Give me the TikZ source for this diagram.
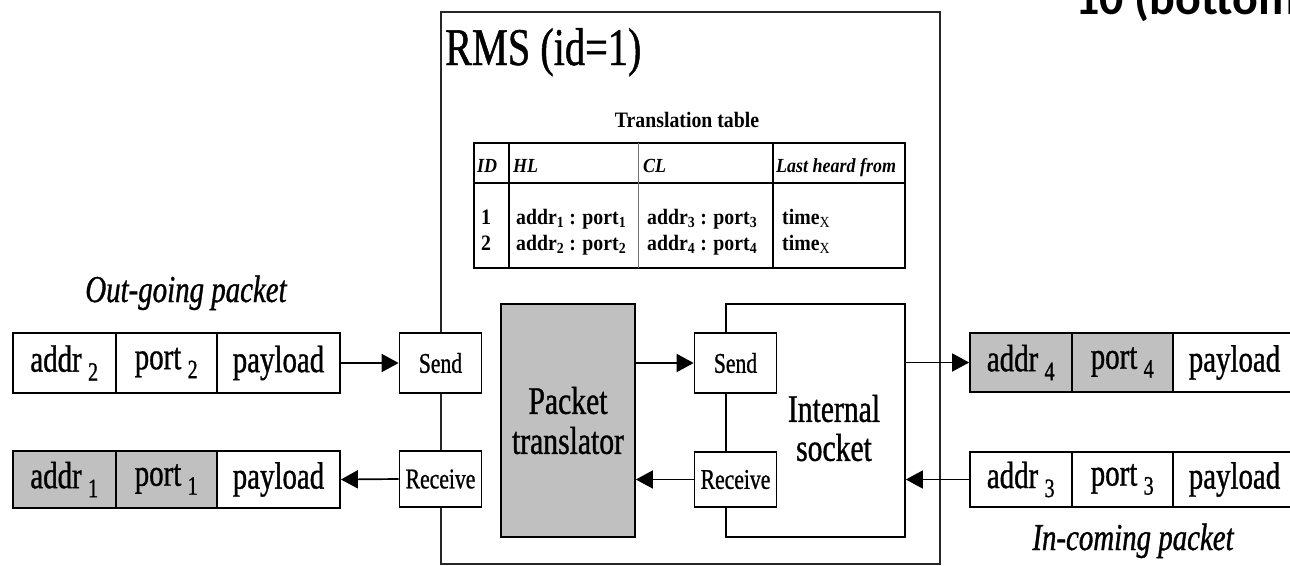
\documentclass[tikz,border=0pt]{standalone}
\usepackage{fontspec}
\setmainfont{Liberation Serif}[FakeStretch=0.76,FakeBold=0.9]
\newfontfamily\tabf{Liberation Serif}[FakeStretch=0.9]
\newfontfamily\headf{Carlito}
\usetikzlibrary{arrows.meta}
\definecolor{cellgrey}{RGB}{192,192,192}
\newcommand\lo[1]{\textsubscript{#1}}
\begin{document}
\begin{tikzpicture}[x=1pt,y=-1pt,
  box/.style={draw, line width=1.7pt, inner sep=0pt, fill=white},
  pkt/.style={box, minimum height=60pt, font=\fontsize{38}{38}\selectfont},
  pktg/.style={pkt, fill=cellgrey},
  portbox/.style={box, minimum width=82pt, font=\fontsize{28.5}{28.5}\selectfont},
  big/.style={box, align=center, font=\fontsize{39}{40}\selectfont},
  arr/.style={line width=1.7pt, -{Triangle[length=17pt,width=18pt]}},
  tabtxt/.style={anchor=base west, inner sep=0pt, font=\tabf\bfseries\fontsize{22}{22}\selectfont},
  tabhd/.style={anchor=base west, inner sep=0pt, font=\tabf\bfseries\itshape\fontsize{20}{20}\selectfont},
  pcap/.style={anchor=base, inner sep=0pt, font=\itshape\fontsize{38}{38}\selectfont}]
\useasboundingbox (0,0) rectangle (1290,565);
\clip (0,0) rectangle (1290,565);

% title fragment at top right
\node[anchor=base west, inner sep=0pt, font=\headf\bfseries\fontsize{48}{48}\selectfont] (frag) at (1075,14) {10 (bottom};

% RMS box
\node[draw=black!85, line width=1.4pt, minimum width=499pt, minimum height=552pt, inner sep=0pt] (rms) at (690.5,288) {};
\node[anchor=base west, inner sep=0pt, font=\fontsize{53}{53}\selectfont] (rmst) at (445,65) {RMS (id=1)};

% translation table
\node[anchor=base, inner sep=0pt, font=\tabf\bfseries\fontsize{22}{22}\selectfont] (tabt) at (687,127) {Translation table};
\node[box, minimum width=431pt, minimum height=125pt] (tab) at (689.5,205.5) {};
\draw[line width=1.7pt] (474,183) -- (905,183);
\draw[line width=1.7pt] (509,143) -- (509,268);
\draw[line width=1pt, black!55] (638,143) -- (638,268);
\draw[line width=1.7pt] (773,143) -- (773,268);
\node[tabhd] (hid) at (477,172) {ID};
\node[tabhd] (hhl) at (513,172) {HL};
\node[tabhd] (hcl) at (643,172) {CL};
\node[tabhd] (hlh) at (776,172) {Last heard from};
\node[tabtxt] (r1a) at (481,224) {1};
\node[tabtxt] (r1b) at (516,224) {addr\lo{1} : port\lo{1}};
\node[tabtxt] (r1c) at (647,224) {addr\lo{3} : port\lo{3}};
\node[tabtxt] (r1d) at (782,224) {time\lo{\mdseries X}};
\node[tabtxt] (r2a) at (481,250) {2};
\node[tabtxt] (r2b) at (516,250) {addr\lo{2} : port\lo{2}};
\node[tabtxt] (r2c) at (647,250) {addr\lo{4} : port\lo{4}};
\node[tabtxt] (r2d) at (782,250) {time\lo{\mdseries X}};

% packet translator and internal socket
\node[big, fill=cellgrey, minimum width=134pt, minimum height=233pt] (pt) at (568,420.5) {Packet\\translator};
\node[big, minimum width=179pt, minimum height=233pt] (sock) at (815.5,420.5) {};
\node[inner sep=0pt, align=center, font=\fontsize{39}{39}\selectfont] (sockt) at (834,428) {Internal\\socket};

% send / receive ports
\node[portbox, minimum height=60pt] (sendL) at (440.5,363) {Send};
\node[portbox, minimum height=56pt] (recvL) at (440.5,479) {Receive};
\node[portbox, minimum height=60pt] (sendI) at (735.5,363) {Send};
\node[portbox, minimum height=55pt] (recvI) at (735.5,479.5) {Receive};

% left packets
\node[pcap] (outc) at (186,302) {Out-going packet};
\node[pkt, minimum width=103pt] (a2) at (64.5,363) {addr\,\lo{2}};
\node[pkt, minimum width=101pt] (p2) at (166.5,363) {port\,\lo{2}};
\node[pkt, minimum width=123pt] (l2) at (278.5,363) {payload};
\node[pktg, minimum width=103pt, minimum height=57pt] (a1) at (64.5,479.5) {addr\,\lo{1}};
\node[pktg, minimum width=101pt, minimum height=57pt] (p1) at (166.5,479.5) {port\,\lo{1}};
\node[pkt, minimum width=123pt, minimum height=57pt] (l1) at (278.5,479.5) {payload};

% right packets
\node[pktg, minimum width=102pt, minimum height=59pt] (a4) at (1021,362.5) {addr\,\lo{4}};
\node[pktg, minimum width=101pt, minimum height=59pt] (p4) at (1122.5,362.5) {port\,\lo{4}};
\node[pkt, minimum width=123pt, minimum height=59pt] (l4) at (1234.5,362.5) {payload};
\node[pkt, minimum width=102pt, minimum height=55pt] (a3) at (1021,479.5) {addr\,\lo{3}};
\node[pkt, minimum width=101pt, minimum height=55pt] (p3) at (1122.5,479.5) {port\,\lo{3}};
\node[pkt, minimum width=123pt, minimum height=55pt] (l3) at (1234.5,479.5) {payload};
\node[pcap] (inc) at (1133,550) {In-coming packet};

% connectors
\draw[arr] (l2.east) -- (sendL.west);
\draw[arr] (recvL.west) -- (l1.east);
\draw[arr] (pt.east |- sendI.west) -- (sendI.west);
\draw[arr] (recvI.west) -- (pt.east |- recvI.west);
\draw[arr] (sock.east |- a4.west) -- (a4.west);
\draw[arr] (a3.west) -- (sock.east |- a3.west);
\end{tikzpicture}
\end{document}
